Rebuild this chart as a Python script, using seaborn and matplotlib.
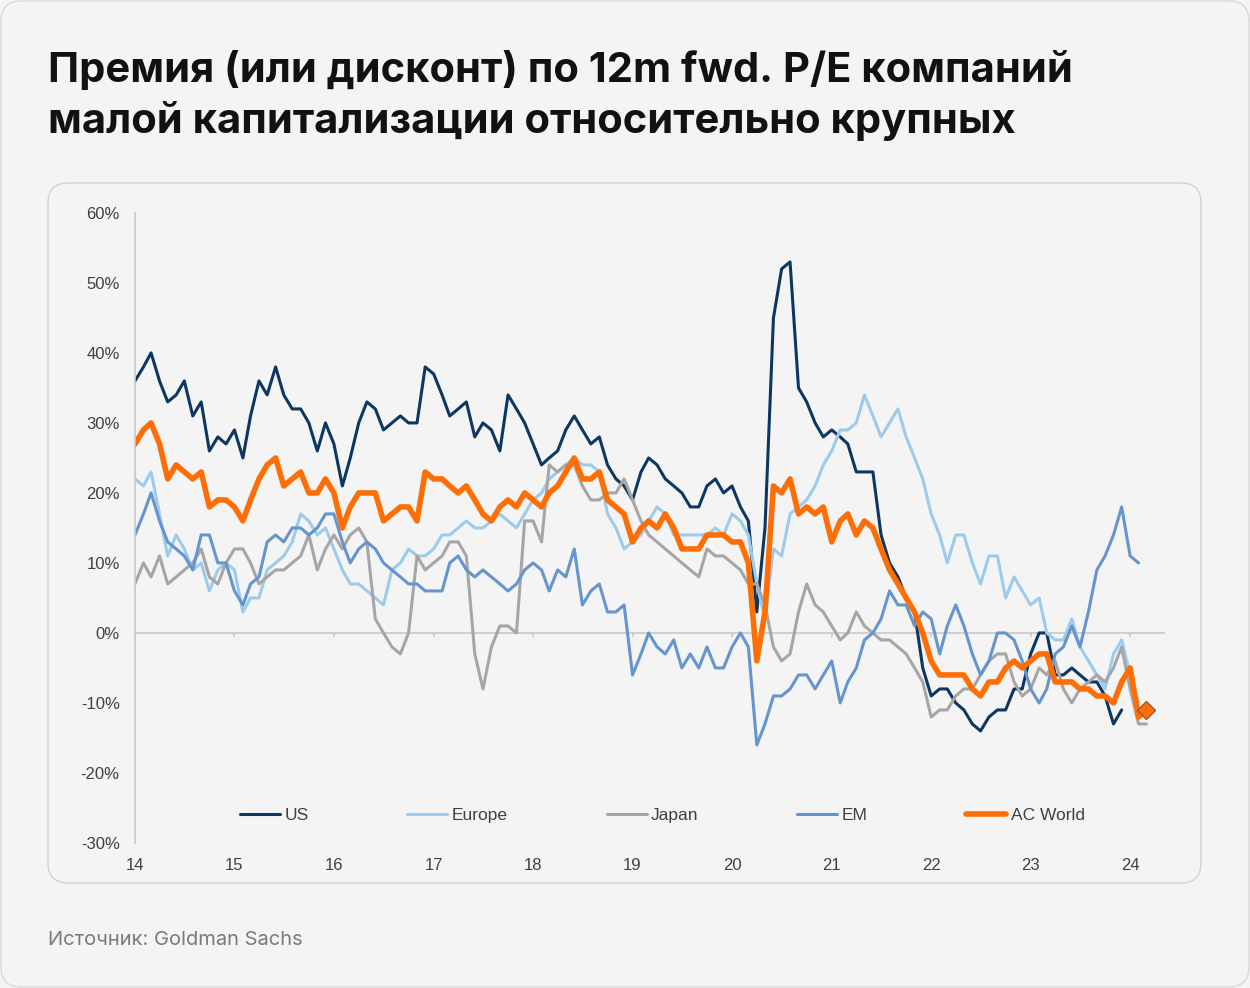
import matplotlib.pyplot as plt
import matplotlib.dates as mdates
from matplotlib.patches import FancyBboxPatch
import seaborn as sns
import pandas as pd

# monthly values, % premium (discount), starting Jan 2014
us = [36, 38, 40, 36, 33, 34, 36, 31, 33, 26, 28, 27,
      29, 25, 31, 36, 34, 38, 34, 32, 32, 30, 26, 30,
      27, 21, 25, 30, 33, 32, 29, 30, 31, 30, 30, 38,
      37, 34, 31, 32, 33, 28, 30, 29, 26, 34, 32, 30,
      27, 24, 25, 26, 29, 31, 29, 27, 28, 24, 22, 21,
      19, 23, 25, 24, 22, 21, 20, 18, 18, 21, 22, 20,
      21, 18, 16, 3, 15, 45, 52, 53, 35, 33, 30, 28,
      29, 28, 27, 23, 23, 23, 14, 10, 8, 5, 3, -5,
      -9, -8, -8, -10, -11, -13, -14, -12, -11, -11, -8, -8,
      -3, 0, 0, -6, -6, -5, -6, -7, -7, -9, -13, -11]

europe = [22, 21, 23, 17, 11, 14, 12, 9, 10, 6, 9, 10,
          9, 3, 5, 5, 9, 10, 11, 13, 17, 16, 14, 15,
          12, 9, 7, 7, 6, 5, 4, 9, 10, 12, 11, 11,
          12, 14, 14, 15, 16, 15, 15, 16, 17, 16, 15, 17,
          19, 20, 22, 23, 24, 25, 24, 24, 23, 17, 15, 12,
          13, 14, 16, 18, 17, 14, 14, 14, 14, 14, 15, 14,
          17, 16, 14, 7, 2, 12, 11, 17, 18, 19, 21, 24,
          26, 29, 29, 30, 34, 31, 28, 30, 32, 28, 25, 22,
          17, 14, 10, 14, 14, 10, 7, 11, 11, 5, 8, 6,
          4, 5, 0, -1, -1, 2, -2, -4, -6, -8, -3, -1,
          -6, -10]

japan = [7, 10, 8, 11, 7, 8, 9, 10, 12, 8, 7, 10,
         12, 12, 10, 7, 8, 9, 9, 10, 11, 14, 9, 12,
         14, 12, 14, 15, 13, 2, 0, -2, -3, 0, 11, 9,
         10, 11, 13, 13, 11, -3, -8, -2, 1, 1, 0, 16,
         16, 13, 24, 23, 24, 24, 21, 19, 19, 20, 20, 22,
         19, 16, 14, 13, 12, 11, 10, 9, 8, 12, 11, 11,
         10, 9, 7, 7, 4, -2, -4, -3, 3, 7, 4, 3,
         1, -1, 0, 3, 1, 0, -1, -1, -2, -3, -5, -7,
         -12, -11, -11, -9, -8, -8, -6, -4, -3, -3, -7, -9,
         -8, -5, -6, -4, -8, -10, -8, -7, -6, -7, -5, -2,
         -8, -13, -13]

em = [14, 17, 20, 16, 13, 12, 11, 9, 14, 14, 10, 10,
      6, 4, 7, 8, 13, 14, 13, 15, 15, 14, 15, 17,
      17, 13, 10, 12, 13, 12, 10, 9, 8, 7, 7, 6,
      6, 6, 10, 11, 9, 8, 9, 8, 7, 6, 7, 9,
      10, 9, 6, 9, 8, 12, 4, 6, 7, 3, 3, 4,
      -6, -3, 0, -2, -3, -1, -5, -3, -5, -2, -5, -5,
      -2, 0, -2, -16, -13, -9, -9, -8, -6, -6, -8, -6,
      -4, -10, -7, -5, -1, 0, 2, 6, 4, 4, 1, 3,
      2, -3, 1, 4, 1, -3, -6, -4, 0, 0, -1, -4,
      -8, -10, -8, -3, -2, 1, -2, 3, 9, 11, 14, 18,
      11, 10]

ac_world = [27, 29, 30, 27, 22, 24, 23, 22, 23, 18, 19, 19,
            18, 16, 19, 22, 24, 25, 21, 22, 23, 20, 20, 22,
            20, 15, 18, 20, 20, 20, 16, 17, 18, 18, 16, 23,
            22, 22, 21, 20, 21, 19, 17, 16, 18, 19, 18, 20,
            19, 18, 20, 21, 23, 25, 22, 22, 23, 19, 18, 17,
            13, 15, 16, 15, 17, 15, 12, 12, 12, 14, 14, 14,
            13, 13, 10, -4, 3, 21, 20, 22, 17, 18, 17, 18,
            13, 16, 17, 14, 16, 15, 12, 9, 7, 5, 3, 0,
            -4, -6, -6, -6, -6, -8, -9, -7, -7, -5, -4, -5,
            -4, -3, -3, -7, -7, -7, -8, -8, -9, -9, -10, -7,
            -5, -12, -11]

names = ['US', 'Europe', 'Japan', 'EM', 'AC World']
colors = ['#0c3763', '#9dcbec', '#a6a6a6', '#6595cf', '#ff6d05']
widths = [2.2, 2.2, 2.2, 2.2, 4.0]

title_1 = 'Премия (или дисконт) по 12m fwd. P/E компаний'
title_2 = 'малой капитализации относительно крупных'
source = 'Источник: Goldman Sachs'

sns.set_style('white')
plt.rcParams['font.family'] = ['Liberation Sans', 'DejaVu Sans']

bg = '#f4f4f4'
fig = plt.figure(figsize=(12.5, 9.88), dpi=100, facecolor=bg)

# outer frame and chart card
fig.add_artist(FancyBboxPatch((0.01, 0.01), 12.48, 9.86,
                              boxstyle='round,pad=0,rounding_size=0.2',
                              transform=fig.dpi_scale_trans,
                              facecolor=bg, edgecolor='#d9d9d9', lw=1, zorder=-2))
fig.add_artist(FancyBboxPatch((0.48, 1.05), 11.53, 7.0,
                              boxstyle='round,pad=0,rounding_size=0.2',
                              transform=fig.dpi_scale_trans,
                              facecolor=bg, edgecolor='#d2d2d2', lw=1, zorder=-1))

ax = fig.add_axes([0.108, 0.1468, 0.824, 0.6377])
ax.set_facecolor('none')

series = [us, europe, japan, em, ac_world]
for name, vals, c, w in zip(names, series, colors, widths):
    dates = pd.date_range('2014-01-01', periods=len(vals), freq='MS')
    sns.lineplot(x=dates, y=vals, color=c, linewidth=w, label=name, ax=ax)

# end marker on AC World
last_date = pd.date_range('2014-01-01', periods=len(ac_world), freq='MS')[-1]
ax.plot([last_date], [ac_world[-1]], marker='D', markersize=9,
        color='#ff6d05', markeredgecolor='#9a5a30', markeredgewidth=1, zorder=5)

ax.set_xlim(pd.Timestamp('2014-01-01'), pd.Timestamp('2024-05-08'))
ax.set_ylim(-30, 60)
ax.set_yticks(range(-30, 61, 10))
ax.set_yticklabels([f'{v}%' for v in range(-30, 61, 10)])
ax.xaxis.set_major_locator(mdates.YearLocator())
ax.xaxis.set_major_formatter(mdates.DateFormatter('%y'))
ax.set_xlabel('')
ax.set_ylabel('')

for s in ['top', 'right', 'bottom']:
    ax.spines[s].set_visible(False)
ax.spines['left'].set_color('#c8c8c8')
ax.spines['left'].set_linewidth(1.2)

ax.tick_params(axis='y', length=5, color='#c8c8c8', width=1.2,
               labelsize=12, labelcolor='#404040', pad=6)
ax.tick_params(axis='x', length=0, labelsize=12, labelcolor='#404040', pad=11)

# zero line with small year ticks
ax.axhline(0, color='#c8c8c8', lw=1.2, zorder=0)
years = pd.date_range('2014-01-01', '2024-01-01', freq='YS')
ax.vlines(years, -0.6, 0, color='#c8c8c8', lw=1.2, zorder=0)

ax.legend(loc='center', bbox_to_anchor=(0.512, 0.044), ncol=5, frameon=False,
          fontsize=12.5, handlelength=2.3, handletextpad=0.25, columnspacing=5.7,
          labelcolor='#404040')

fig.text(48 / 1250, 1 - 82 / 988, title_1, family='Inter', weight='bold',
         fontsize=30, color='#111111', va='baseline')
fig.text(48 / 1250, 1 - 133 / 988, title_2, family='Inter', weight='bold',
         fontsize=30, color='#111111', va='baseline')
fig.text(48 / 1250, 1 - 945 / 988, source, family='Inter', fontsize=14.5,
         color='#7a7a7a', va='baseline')

fig.savefig('out.png', dpi=100, facecolor=bg)
